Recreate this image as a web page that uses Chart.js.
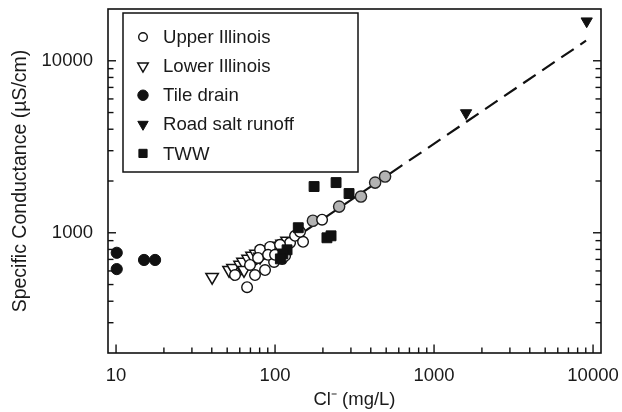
<!DOCTYPE html>
<html><head><meta charset="utf-8">
<script src="https://cdn.jsdelivr.net/npm/chart.js@4.4.1/dist/chart.umd.min.js"></script>
<style>html,body{margin:0;padding:0;background:#fff}</style>
</head><body>
<canvas id="c" width="622" height="412"></canvas>
<script>
// ---- data (Cl- in mg/L, specific conductance in uS/cm) ----
const upperIllinoisCl = [66.7, 74.8, 86.5, 98.6, 110.7, 124.3, 133.6, 150, 143.6, 197.6, 80.5, 93, 107.5, 78.2, 90.4, 115.6, 56, 69.6, 100];
const upperIllinoisSC = [483, 568, 607, 677, 705, 874, 960, 886, 1013, 1191, 796, 828, 851, 714, 744, 734, 568, 650, 744];
const upperIllinoisHighCl = [173, 253, 347, 426, 492];
const upperIllinoisHighSC = [1175, 1420, 1624, 1958, 2123];
const lowerIllinoisCl = [40.2, 51.4, 54.4, 60.3, 62.9, 67.7, 71.7, 75.9, 82.8, 87.8, 95.7, 101.5, 110.7, 119, 80.5, 63.8];
const lowerIllinoisSC = [553, 607, 624, 650, 677, 705, 734, 754, 785, 796, 817, 839, 862, 898, 724, 607];
const tileDrainCl = [10.1, 10.1, 15.0, 17.6];
const tileDrainSC = [765, 615, 695, 695];
const roadSaltCl = [1590, 9120];
const roadSaltSC = [4970, 16990];
const twwCl = [176, 242, 292, 140, 212, 225, 119, 112, 108];
const twwSC = [1857, 1958, 1691, 1070, 935, 960, 796, 753, 705];
const fitSolidCl = [54, 528];
const fitSolidSC = [531, 2208];
const fitDashedCl = [528, 9036];
const fitDashedSC = [2208, 13090];
const xTickLabels = [10, 100, 1000, 10000];
const yTickLabels = [1000, 10000];
const xMinorTicks = [20,30,40,50,60,70,80,90,200,300,400,500,600,700,800,900,2000,3000,4000,5000,6000,7000,8000,9000];
const yMinorTicks = [300,400,500,600,700,800,900,2000,3000,4000,5000,6000,7000,8000,9000];

const pts = (xs, ys) => xs.map((x, i) => ({x: x, y: ys[i]}));
const INK = '#111';
const FONT = 'Liberation Sans, Arial, Helvetica, sans-serif';

const datasets = [
  {label: 'TWW', data: pts(twwCl, twwSC), pointStyle: 'rect', pointRadius: 7, backgroundColor: INK, borderColor: INK, borderWidth: 1, order: 1, legend: true, legendRadius: 5.8},
  {label: 'Upper Illinois', data: pts(upperIllinoisCl, upperIllinoisSC), pointStyle: 'circle', pointRadius: 5.3, backgroundColor: '#fff', borderColor: INK, borderWidth: 1.4, order: 2, legend: true, legendRadius: 4.3},
  {label: 'Upper Illinois (high Cl)', data: pts(upperIllinoisHighCl, upperIllinoisHighSC), pointStyle: 'circle', pointRadius: 5.6, backgroundColor: '#b3b3b3', borderColor: '#222', borderWidth: 1.4, order: 2, legend: false},
  {label: 'Lower Illinois', data: pts(lowerIllinoisCl, lowerIllinoisSC), pointStyle: 'triangle', pointRotation: 180, pointRadius: 7.2, backgroundColor: '#fff', borderColor: INK, borderWidth: 1.5, order: 3, legend: true, legendRadius: 6},
  {label: 'Tile drain', data: pts(tileDrainCl, tileDrainSC), pointStyle: 'circle', pointRadius: 5.6, backgroundColor: INK, borderColor: INK, borderWidth: 1, order: 3, legend: true, legendRadius: 5.2},
  {label: 'Road salt runoff', data: pts(roadSaltCl, roadSaltSC), pointStyle: 'triangle', pointRotation: 180, pointRadius: 6.5, backgroundColor: INK, borderColor: INK, borderWidth: 1, order: 3, legend: true, legendRadius: 6},
  {type: 'line', label: 'fit', data: pts(fitSolidCl, fitSolidSC), borderColor: INK, borderWidth: 2.2, pointRadius: 0, showLine: true, fill: false, order: 10, legend: false},
  {type: 'line', label: 'fit extrapolated', data: pts(fitDashedCl, fitDashedSC), borderColor: INK, borderWidth: 2.2, borderDash: [15, 8], pointRadius: 0, showLine: true, fill: false, order: 10, legend: false}
];
const legendOrder = ['Upper Illinois', 'Lower Illinois', 'Tile drain', 'Road salt runoff', 'TWW'];

function marker(ctx, style, rot, r, x, y, fill, stroke, lw) {
  ctx.save();
  ctx.beginPath();
  if (style === 'circle') {
    ctx.arc(x, y, r, 0, Math.PI * 2);
  } else if (style === 'rect') {
    const s = Math.SQRT1_2 * r;
    ctx.rect(x - s, y - s, 2 * s, 2 * s);
  } else if (style === 'triangle') {
    let a = (rot || 0) * Math.PI / 180;
    ctx.moveTo(x + Math.sin(a) * r, y - Math.cos(a) * r);
    a += 2 * Math.PI / 3;
    ctx.lineTo(x + Math.sin(a) * r, y - Math.cos(a) * r);
    a += 2 * Math.PI / 3;
    ctx.lineTo(x + Math.sin(a) * r, y - Math.cos(a) * r);
    ctx.closePath();
  }
  ctx.fillStyle = fill; ctx.fill();
  ctx.lineWidth = lw; ctx.strokeStyle = stroke; ctx.stroke();
  ctx.restore();
}

const zeroPad = s => { s.paddingTop = 0; s.paddingBottom = 0; s.paddingLeft = 0; s.paddingRight = 0; };

const framePlugin = {
  id: 'framePlugin',
  afterDraw(chart) {
    const ctx = chart.ctx;
    const {left, right, top, bottom} = chart.chartArea;
    const xs = chart.scales.x, ys = chart.scales.y;
    ctx.save();
    ctx.strokeStyle = INK;
    ctx.lineWidth = 1.6;
    ctx.strokeRect(left, top, right - left, bottom - top);
    ctx.lineWidth = 1.4;
    const seg = (x1, y1, x2, y2) => { ctx.beginPath(); ctx.moveTo(x1, y1); ctx.lineTo(x2, y2); ctx.stroke(); };
    xTickLabels.forEach(v => { const p = xs.getPixelForValue(v); seg(p, bottom, p, bottom - 8.5); });
    xMinorTicks.forEach(v => { const p = xs.getPixelForValue(v); seg(p, bottom, p, bottom - 5.5); });
    yTickLabels.forEach(v => { const p = ys.getPixelForValue(v); seg(left, p, left + 8, p); seg(right, p, right - 8, p); });
    yMinorTicks.forEach(v => { const p = ys.getPixelForValue(v); seg(left, p, left + 5.5, p); seg(right, p, right - 5.5, p); });

    // legend box
    const bx = left + 15, by = top + 4, bw = 235, bh = 159;
    ctx.fillStyle = '#fff';
    ctx.fillRect(bx, by, bw, bh);
    ctx.lineWidth = 1.5;
    ctx.strokeRect(bx, by, bw, bh);
    ctx.font = '18.6px ' + FONT;
    ctx.textBaseline = 'middle';
    ctx.textAlign = 'left';
    legendOrder.forEach((name, i) => {
      const ds = chart.data.datasets.find(d => d.label === name);
      const cy = by + 24 + i * 29.1;
      marker(ctx, ds.pointStyle, ds.pointRotation, ds.legendRadius, bx + 20, cy, ds.backgroundColor, ds.borderColor, ds.borderWidth);
      ctx.fillStyle = '#1a1a1a';
      ctx.fillText(name, bx + 40, cy + 1);
    });
    ctx.restore();
  }
};

new Chart(document.getElementById('c'), {
  type: 'scatter',
  data: {datasets: datasets},
  options: {
    responsive: false,
    animation: false,
    devicePixelRatio: 1,
    events: [],
    layout: {padding: {top: 9, right: 21, left: 0, bottom: 0}},
    plugins: {legend: {display: false}, tooltip: {enabled: false}},
    scales: {
      x: {
        type: 'logarithmic', position: 'bottom', min: 8.9, max: 11220,
        grid: {display: false, drawTicks: false}, border: {display: false},
        afterBuildTicks: s => { s.ticks = xTickLabels.map(v => ({value: v})); },
        afterFit: s => { s.height = 59; zeroPad(s); },
        ticks: {color: '#1a1a1a', font: {size: 18.5, family: FONT}, padding: 12, maxRotation: 0, autoSkip: false, callback: v => String(v)},
        title: {display: true, text: 'Cl\u207B (mg/L)', color: '#1a1a1a', font: {size: 18.5, family: FONT}, padding: {top: 0, bottom: 1}}
      },
      y: {
        type: 'logarithmic', position: 'left', min: 200, max: 20000,
        grid: {display: false, drawTicks: false}, border: {display: false},
        afterBuildTicks: s => { s.ticks = yTickLabels.map(v => ({value: v})); },
        afterFit: s => { s.width = 108; zeroPad(s); },
        ticks: {color: '#1a1a1a', font: {size: 18.5, family: FONT}, padding: 15, autoSkip: false, callback: v => String(v)},
        title: {display: true, text: 'Specific Conductance (\u00B5S/cm)', color: '#1a1a1a', font: {size: 19.5, family: FONT}, padding: {top: 9, bottom: 4}}
      }
    }
  },
  plugins: [framePlugin]
});
</script>
</body></html>
